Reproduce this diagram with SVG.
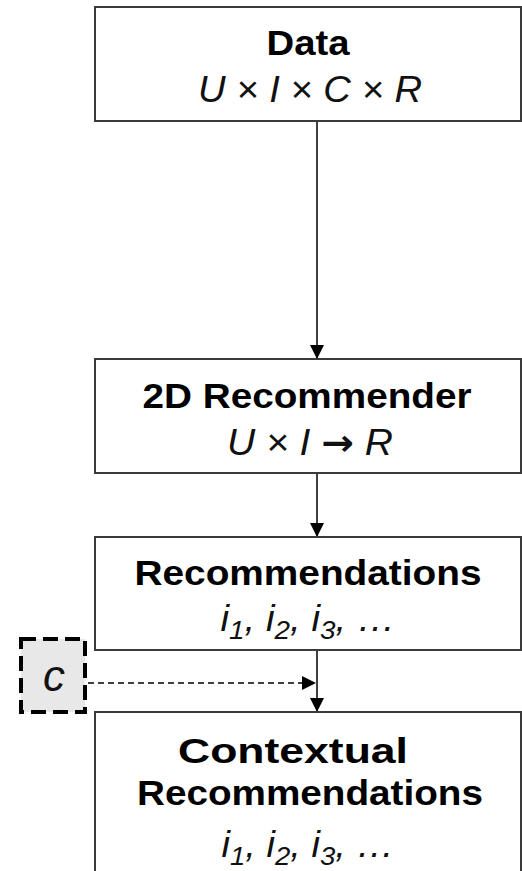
<svg xmlns="http://www.w3.org/2000/svg" width="522" height="871" viewBox="0 0 522 871">
  <defs>
    <style>
      .box { fill: #ffffff; stroke: #3a3a3a; stroke-width: 2; }
      .title { font-family: "Liberation Sans", Arial, sans-serif; font-weight: bold; font-size: 35px; fill: #000; text-anchor: middle; }
      .math { font-family: "Liberation Sans", Arial, sans-serif; font-style: italic; font-size: 36px; fill: #111; text-anchor: middle; }
      .sub { font-size: 26px; }
      .arr { font-family: "DejaVu Sans", sans-serif; font-style: normal; font-weight: bold; }
      .edge { stroke: #000; stroke-width: 1.5; fill: none; }
      .dashed { stroke-dasharray: 6 4; }
      .ctx { fill: #e8e8e8; stroke: #000; stroke-width: 4; stroke-dasharray: 15 7; }
    </style>
    <marker id="arrow" viewBox="0 0 14 14" refX="14" refY="7" markerWidth="14" markerHeight="14" markerUnits="userSpaceOnUse" orient="auto">
      <path d="M0,0 L14,7 L0,14 Z" fill="#000"/>
    </marker>
  </defs>

  <rect width="522" height="871" fill="#ffffff"/>

  <g id="connectors">
    <line class="edge" x1="317" y1="121" x2="317" y2="359" marker-end="url(#arrow)"/>
    <line class="edge" x1="317" y1="473" x2="317" y2="537" marker-end="url(#arrow)"/>
    <line class="edge" x1="317" y1="651" x2="317" y2="712" marker-end="url(#arrow)"/>
    <line class="edge dashed" x1="88" y1="683" x2="316" y2="683" marker-end="url(#arrow)"/>
  </g>

  <g id="data">
    <rect class="box" x="95" y="7" width="426" height="114"/>
    <text class="title" x="308" y="55" textLength="83" lengthAdjust="spacingAndGlyphs">Data</text>
    <text class="math" x="310" y="102" textLength="224" lengthAdjust="spacingAndGlyphs">U × I × C × R</text>
  </g>

  <g id="recommender-2d">
    <rect class="box" x="95" y="359" width="426" height="114"/>
    <text class="title" x="307" y="408" textLength="329" lengthAdjust="spacingAndGlyphs">2D Recommender</text>
    <text class="math" x="310" y="455" textLength="166" lengthAdjust="spacingAndGlyphs">U × I <tspan class="arr">→</tspan> R</text>
  </g>

  <g id="recommendations">
    <rect class="box" x="95" y="537" width="426" height="113"/>
    <text class="title" x="308" y="585" textLength="347" lengthAdjust="spacingAndGlyphs">Recommendations</text>
    <text class="math" x="308" y="631" textLength="175" lengthAdjust="spacingAndGlyphs">i<tspan class="sub" dy="8">1</tspan><tspan dy="-8">, i</tspan><tspan class="sub" dy="8">2</tspan><tspan dy="-8">, i</tspan><tspan class="sub" dy="8">3</tspan><tspan dy="-8">,  …</tspan></text>
  </g>

  <g id="context">
    <rect class="ctx" x="21" y="639" width="64" height="73"/>
    <text class="math" x="54" y="691" style="font-size:44px">c</text>
  </g>

  <g id="contextual-recommendations">
    <rect class="box" x="95" y="712" width="426" height="170"/>
    <text class="title" x="293" y="763" textLength="230" lengthAdjust="spacingAndGlyphs">Contextual</text>
    <text class="title" x="310" y="805" textLength="346" lengthAdjust="spacingAndGlyphs">Recommendations</text>
    <text class="math" x="308" y="857" textLength="173" lengthAdjust="spacingAndGlyphs">i<tspan class="sub" dy="8">1</tspan><tspan dy="-8">, i</tspan><tspan class="sub" dy="8">2</tspan><tspan dy="-8">, i</tspan><tspan class="sub" dy="8">3</tspan><tspan dy="-8">,  …</tspan></text>
  </g>
</svg>
